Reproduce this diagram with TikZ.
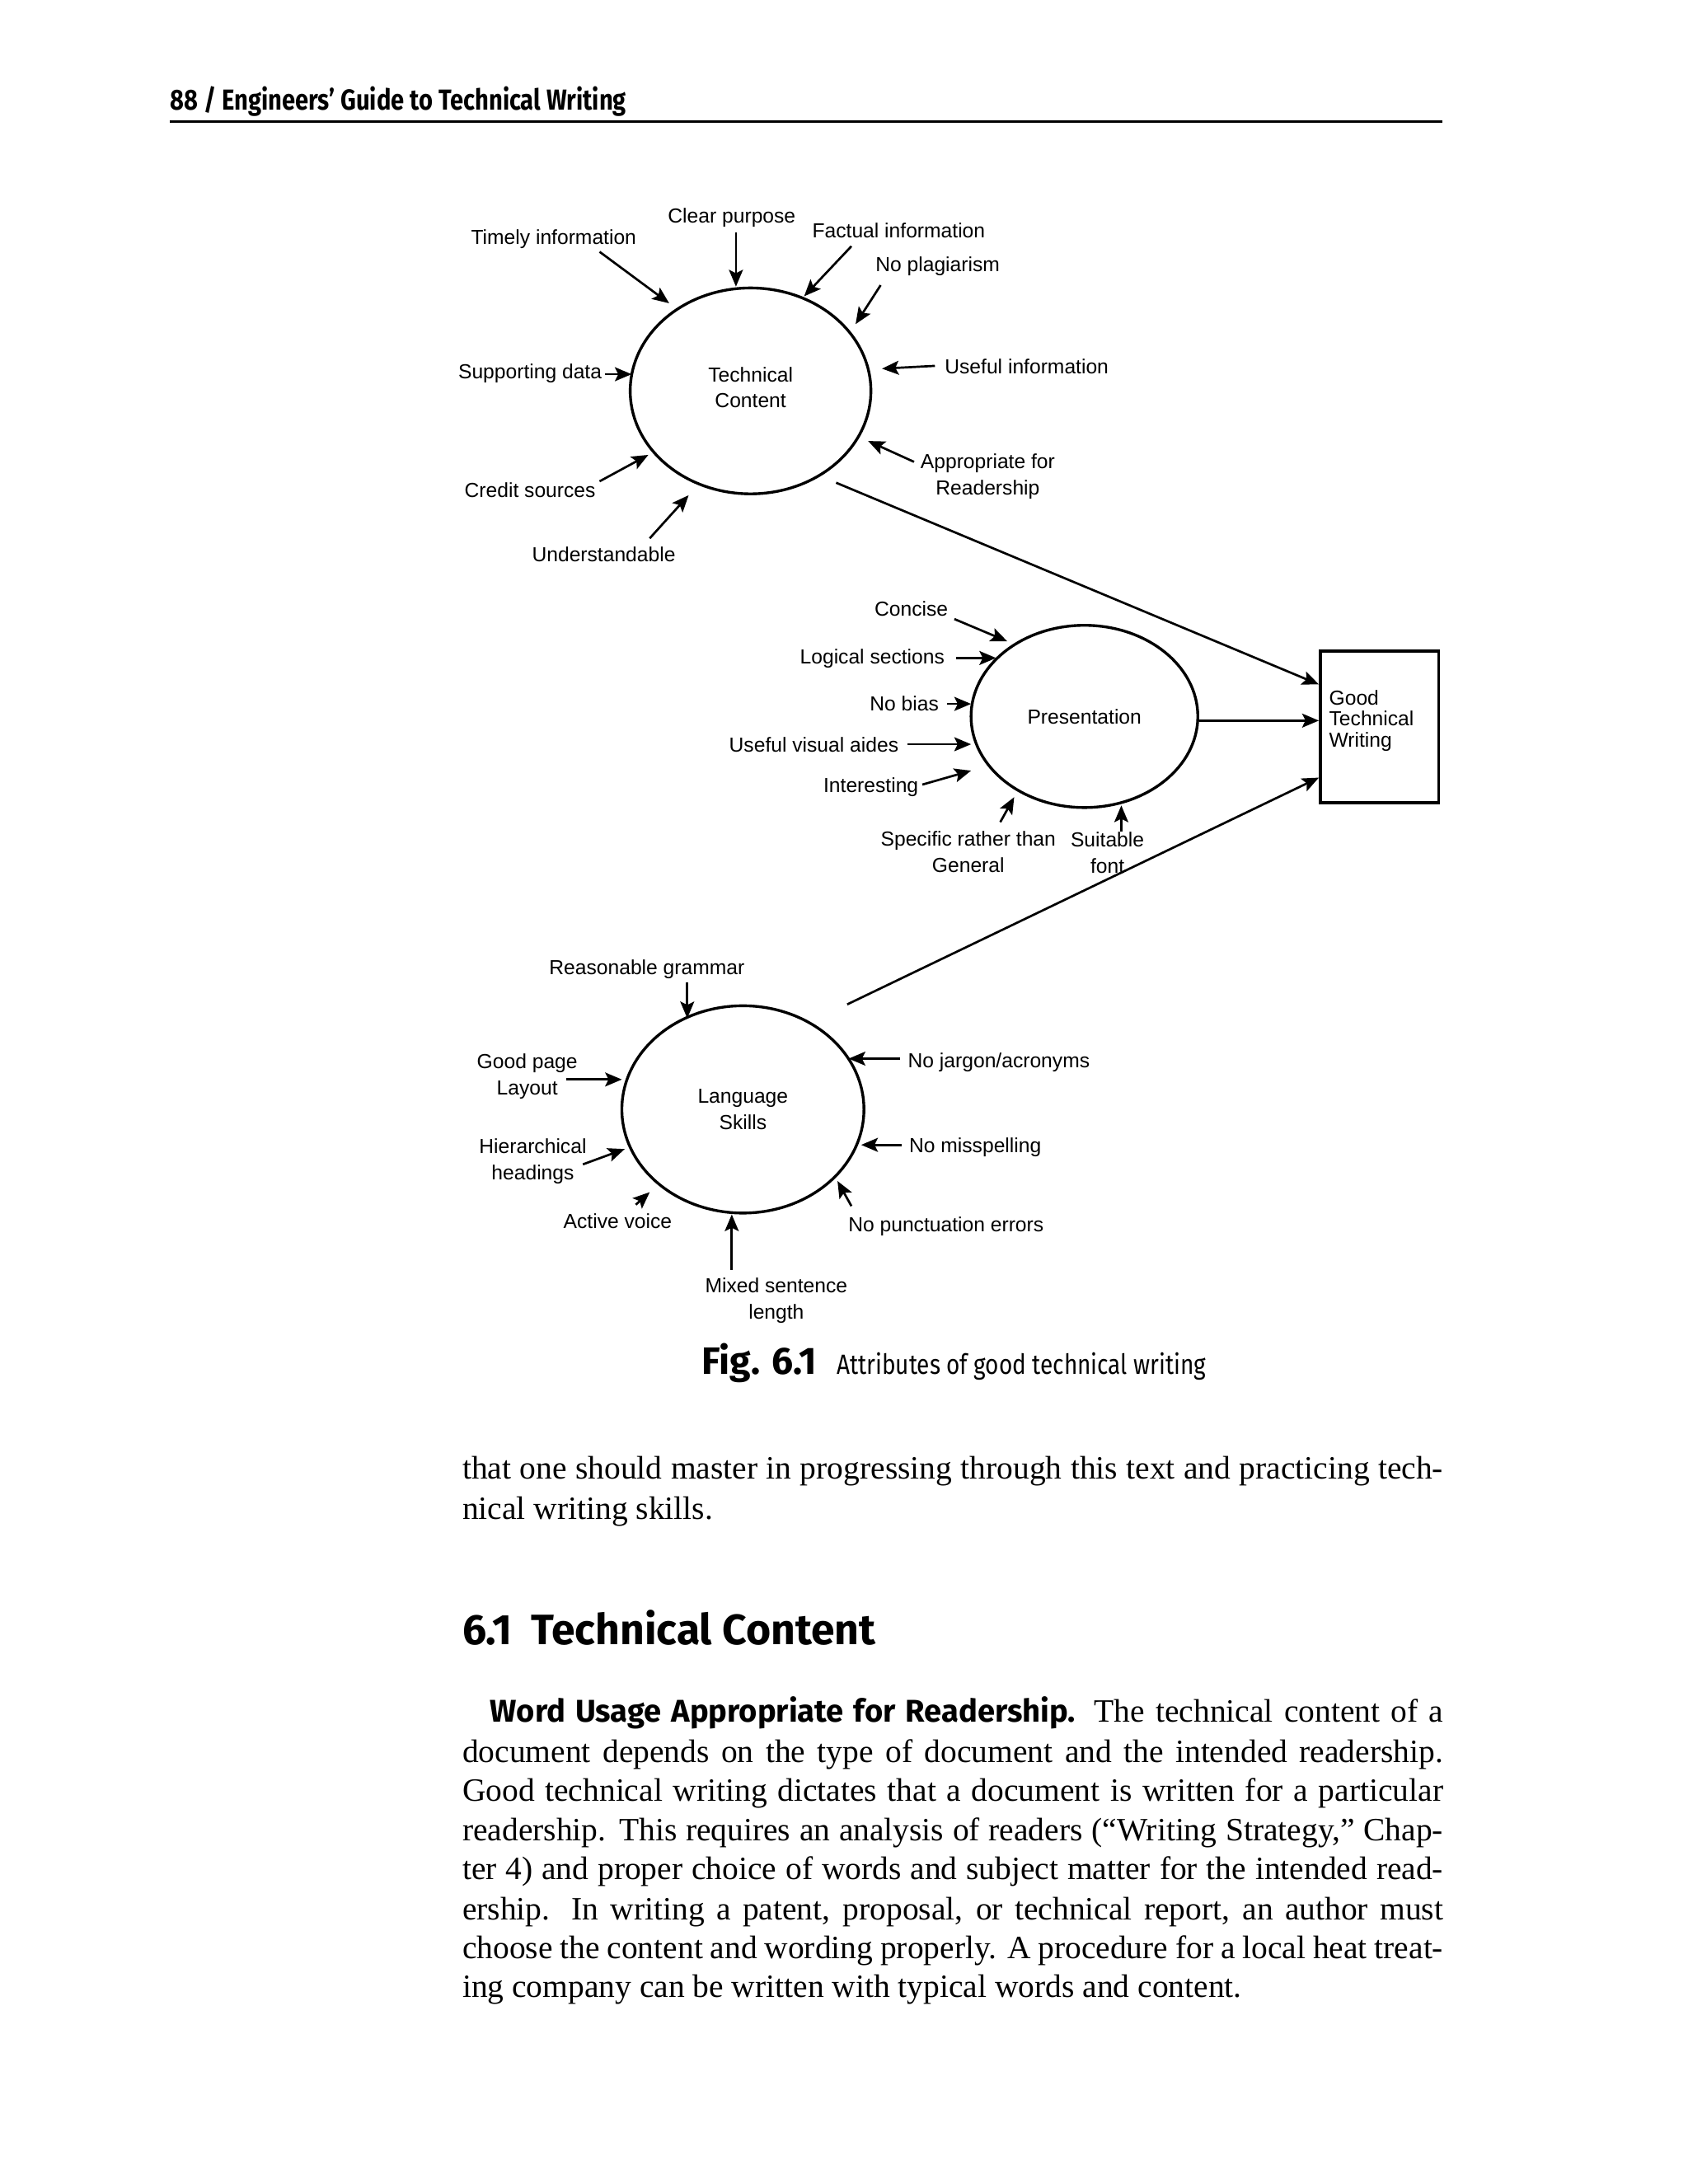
\documentclass[tikz,border=0pt]{standalone}
\usepackage{fontspec}
\setmainfont{Liberation Serif}
\newfontfamily\labfont{Liberation Sans}
\newfontfamily\hsfont[FakeStretch=0.83]{Fira Sans}
\newfontfamily\hsfontn{Fira Sans}
\usetikzlibrary{shapes.geometric,arrows.meta}
\newcommand{\jl}[2]{\makebox[#1][s]{#2}}
\begin{document}
\begin{tikzpicture}[x=0.5pt,y=-0.5pt,
  lab/.style={font=\labfont\fontsize{7.3}{9.5}\selectfont, align=center, inner sep=0pt, yshift=-0.8pt},
  arr/.style={-{Stealth[length=6pt,width=5pt,inset=1.2pt]}, line width=0.8pt},
  ell/.style={ellipse, draw, line width=1pt, inner sep=0pt, align=center, font=\labfont\fontsize{7.3}{9.5}\selectfont},
  body/.style={anchor=base west, inner sep=0pt, font=\fontsize{11.7}{14}\selectfont},
]
\useasboundingbox (0,0) rectangle (1213.3,1570);

% header
\node[anchor=base west, inner sep=0pt, font=\hsfont\bfseries\fontsize{10.4}{12}\selectfont] (hdr) at (122,79) {88 / Engineers’ Guide to Technical Writing};
\draw[line width=0.9pt] (122,87.5) -- (1037,87.5);

% ellipses and box
\node[ell, minimum width=86.5pt, minimum height=74pt] (tc) at (539.5,281) {\raisebox{2.5pt}{\shortstack{Technical\\[1.2pt]Content}}};
\node[ell, minimum width=81.5pt, minimum height=65.5pt] (pr) at (779.5,515) {\raisebox{-1pt}{Presentation}};
\node[ell, minimum width=87pt, minimum height=74.5pt] (ls) at (534,797.5) {Language\\Skills};
\node[draw, line width=1pt, minimum width=42.5pt, minimum height=54.5pt, inner sep=0pt] (gtw) at (991.5,522.5) {};
\node[lab, anchor=west, align=left, font=\labfont\fontsize{7.3}{7.5}\selectfont] (gtwt) at (955,516.5) {Good\\Technical\\Writing};

% technical content labels
\node[lab] (l1) at (526,155) {Clear purpose};
\node[lab] (l2) at (398,170) {Timely information};
\node[lab] (l3) at (646,164) {Factual information};
\node[lab] (l4) at (674,190) {No plagiarism};
\node[lab] (l5) at (738,262) {Useful information};
\node[lab] (l6) at (381,267) {Supporting data};
\node[lab] (l7) at (710,341) {Appropriate for\\Readership};
\node[lab] (l8) at (381,351) {Credit sources};
\node[lab] (l9) at (434,397) {Understandable};

\draw[arr] (529,167) -- (529,206);
\draw[arr] (431,181) -- (481,218);
\draw[arr] (612,177) -- (578,213);
\draw[arr] (633,205) -- (615,233);
\draw[arr] (672,263) -- (634,265);
\draw[arr] (435,269) -- (454,269);
\draw[arr] (657,332) -- (624,317);
\draw[arr] (431,346) -- (466,327);
\draw[arr] (467,387) -- (495,356);

% presentation labels
\node[lab] (p1) at (655,436) {Concise};
\node[lab] (p2) at (627,472) {Logical sections};
\node[lab] (p3) at (650,504) {No bias};
\node[lab] (p4) at (585,534) {Useful visual aides};
\node[lab] (p5) at (626,564) {Interesting};
\node[lab] (p6) at (696,611) {Specific rather than\\General};
\node[lab] (p7) at (796,611.5) {Suitable\\font};

\draw[arr] (686,445) -- (724,461);
\draw[arr] (687,473) -- (716,473);
\draw[arr] (681,506) -- (698,506);
\draw[arr] (652,535) -- (698,535);
\draw[arr] (663,564) -- (698,554);
\draw[arr] (719,591) -- (729,573);
\draw[arr] (806,598) -- (806,579);

% language labels
\node[lab] (s1) at (465,695) {Reasonable grammar};
\node[lab] (s2) at (379,772) {Good page\\Layout};
\node[lab] (s3) at (383,833.5) {Hierarchical\\headings};
\node[lab] (s4) at (444,876) {Active voice};
\node[lab] (s5) at (558,933.5) {Mixed sentence\\length};
\node[lab] (s6) at (680,880) {No punctuation errors};
\node[lab] (s7) at (701,823) {No misspelling};
\node[lab] (s8) at (718,762) {No jargon/acronyms};

\draw[arr] (494,706) -- (494,732);
\draw[arr] (407,776) -- (447,776);
\draw[arr] (419,837) -- (449,826);
\draw[arr] (457,866) -- (467,857);
\draw[arr] (526,913) -- (526,873);
\draw[arr] (612,867) -- (602,849);
\draw[arr] (648,823) -- (619,823);
\draw[arr] (647,761) -- (610,761);

% to the box
\coordinate (pre) at (862,518);
\draw[arr] (601,347) -- (948,492);
\draw[arr] (pre) -- (948,518);
\draw[arr] (609,722) -- (948,559);

% caption
\node[anchor=base west, inner sep=0pt, font=\hsfontn\bfseries\fontsize{13.7}{16}\selectfont] (figno) at (504,988) {Fig. 6.1};
\node[anchor=base west, inner sep=0pt, font=\hsfont\fontsize{10}{12}\selectfont] (figcap) at (601,988) {Attributes of good technical writing};

% body text
\node[body] (b1) at (332,1063) {\jl{352.5pt}{that one should master in progressing through this text and practicing tech-}};
\node[body] (b2) at (332,1092) {nical writing skills.};
\node[anchor=base west, inner sep=0pt, font=\hsfontn\bfseries\fontsize{15.3}{18}\selectfont] (head) at (332,1182) {6.1\hspace{0.45em}Technical Content};
\node[body] (c1) at (352,1238) {\jl{342.5pt}{{\hsfontn\bfseries\fontsize{11.3}{14}\selectfont Word Usage Appropriate for Readership.} The technical content of a}};
\node[body] (c2) at (332,1267) {\jl{352.5pt}{document depends on the type of document and the intended readership.}};
\node[body] (c3) at (332,1295) {\jl{352.5pt}{Good technical writing dictates that a document is written for a particular}};
\node[body] (c4) at (332,1323) {\jl{352.5pt}{readership. This requires an analysis of readers (“Writing Strategy,” Chap-}};
\node[body] (c5) at (332,1351) {\jl{352.5pt}{ter 4) and proper choice of words and subject matter for the intended read-}};
\node[body] (c6) at (332,1380) {\jl{352.5pt}{ership. In writing a patent, proposal, or technical report, an author must}};
\node[body] (c7) at (332,1408) {\jl{352.5pt}{choose the content and wording properly. A procedure for a local heat treat-}};
\node[body] (c8) at (332,1436) {ing company can be written with typical words and content.};
\end{tikzpicture}
\end{document}
